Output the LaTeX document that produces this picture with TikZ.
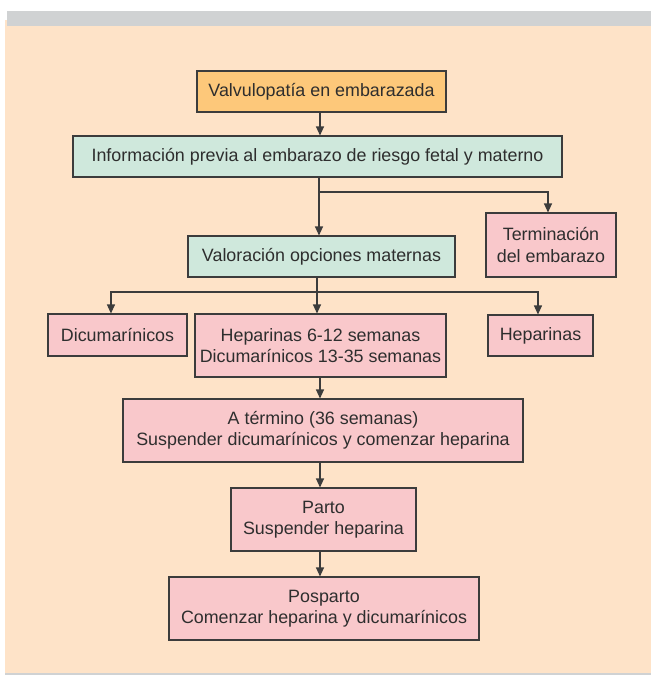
\documentclass[tikz,border=0pt]{standalone}
\usepackage{fontspec}
\setmainfont{Liberation Sans}
\usetikzlibrary{arrows.meta}
\definecolor{bgpeach}{RGB}{254,227,200}
\definecolor{bandgray}{RGB}{208,210,211}
\definecolor{orangefill}{RGB}{253,200,122}
\definecolor{greenfill}{RGB}{207,232,220}
\definecolor{pinkfill}{RGB}{249,200,203}
\definecolor{edgegray}{RGB}{60,60,60}
\begin{document}
\begin{tikzpicture}[x=0.75pt,y=-0.75pt,
  box/.style={draw=edgegray,line width=0.8pt,inner sep=0pt,align=center,
    font=\fontsize{13.4pt}{15.8pt}\selectfont,text=black!82},
  obox/.style={box,fill=orangefill},
  gbox/.style={box,fill=greenfill},
  pbox/.style={box,fill=pinkfill},
  wh/.style 2 args={minimum width=#1*0.75pt,minimum height=#2*0.75pt},
  conn/.style={draw=edgegray,line width=0.8pt},
  arr/.style={conn,-{Triangle[length=6.75pt,width=6pt]}}]
\useasboundingbox (0,0) rectangle (651,675);
\fill[white] (0,0) rectangle (651,675);
\fill[bgpeach] (5,20) rectangle (651,673);
\fill[bandgray] (7,11) rectangle (651,26);
\fill[bandgray] (5,673) rectangle (651,675);

\node[obox,wh={249}{41}] (v) at (321.5,91.5) {Valvulopatía en embarazada};
\node[gbox,wh={489}{41}] (info) at (317.5,156.5) {Información previa al embarazo de riesgo fetal y materno};
\node[gbox,wh={267}{41}] (val) at (321.5,256.5) {Valoración opciones maternas};
\node[pbox,wh={130}{64}] (term) at (551,245) {Terminación\\del embarazo};
\node[pbox,wh={139}{42}] (dic) at (117.5,335) {Dicumarínicos};
\node[pbox,wh={251}{63}] (hep612) at (320.5,345.5) {Heparinas 6-12 semanas\\Dicumarínicos 13-35 semanas};
\node[pbox,wh={105}{41}] (hep) at (540.5,335.5) {Heparinas};
\node[pbox,wh={400}{63}] (at) at (323,430.5) {A término (36 semanas)\\Suspender dicumarínicos y comenzar heparina};
\node[pbox,wh={185}{63}] (parto) at (323.5,519.5) {Parto\\Suspender heparina};
\node[pbox,wh={310}{63}] (pos) at (324,608.5) {Posparto\\Comenzar heparina y dicumarínicos};

\coordinate (b1) at (319,192);
\coordinate (b2) at (317,292);
\coordinate (c) at (320,0);

\draw[arr] (v.south -| c) -- (info.north -| c);
\draw[arr] (info.south -| b1) -- (val.north -| b1);
\draw[arr] (b1) -| ([xshift=-2.25pt]term.north);
\draw[conn] (val.south -| b2) -- (b2);
\draw[arr] (b2) -| ([xshift=-4.9pt]dic.north);
\draw[arr] (b2) -- (hep612.north -| b2);
\draw[arr] (b2) -| ([xshift=-1.9pt]hep.north);
\draw[arr] (hep612.south -| c) -- (at.north -| c);
\draw[arr] (at.south -| c) -- (parto.north -| c);
\draw[arr] (parto.south -| c) -- (pos.north -| c);
\end{tikzpicture}
\end{document}
